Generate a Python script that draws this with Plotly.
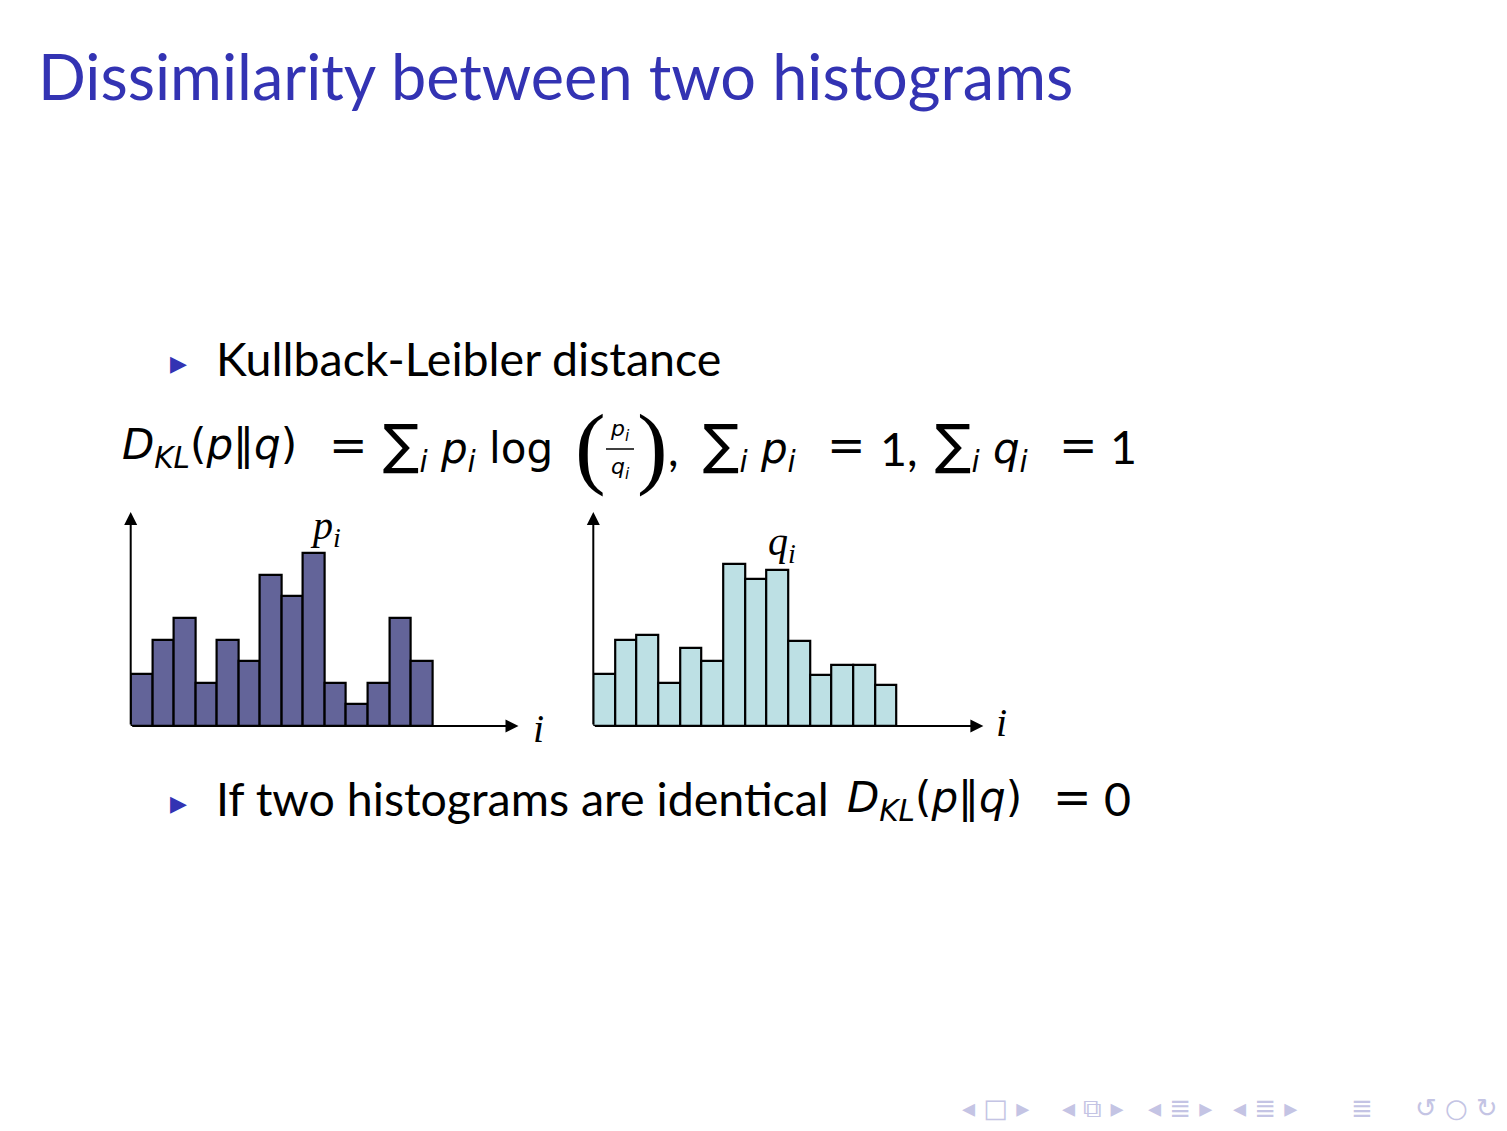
import plotly.graph_objects as go

# bar heights (arbitrary units)
bins = list(range(14))
p_vals = [2.4, 4, 5, 2, 4, 3, 7, 6, 8, 2, 1, 2, 5, 3]
q_vals = [2.4, 4, 4.2, 2, 3.6, 3, 7.5, 6.8, 7.2, 3.95, 2.35, 2.8, 2.8, 1.9]

W, H = 1507, 1131
OFF = 8  # page body margin
BLUE = "#3333b3"
SANS = "Lato, 'Open Sans', sans-serif"
MATH = "'DejaVu Sans', sans-serif"
SERIF = "'Liberation Serif', 'DejaVu Serif', serif"
SUM = "<span style='font-size:54px'>∑</span>"


def px(x):
    return (x - OFF) / W


def py(y):
    return 1 - (y - OFF) / H


fig = go.Figure()
fig.add_trace(go.Bar(x=bins, y=p_vals, width=1, xaxis="x", yaxis="y",
                     marker=dict(color="#636499", line=dict(color="black", width=2.2))))
fig.add_trace(go.Bar(x=bins, y=q_vals, width=1, xaxis="x2", yaxis="y2",
                     marker=dict(color="#bde0e4", line=dict(color="black", width=2.2))))

ax_common = dict(visible=False, range=[-0.5, 17.5], fixedrange=True)
ay_common = dict(visible=False, range=[0, 9.9], fixedrange=True)
ydom = [py(726), py(512)]

fig.update_layout(
    width=W, height=H,
    margin=dict(l=0, r=0, t=0, b=0),
    paper_bgcolor="white", plot_bgcolor="white",
    showlegend=False, bargap=0,
    xaxis=dict(domain=[px(130.7), px(518.5)], **ax_common),
    yaxis=dict(domain=ydom, **ay_common),
    xaxis2=dict(domain=[px(593.3), px(983.4)], anchor="y2", **ax_common),
    yaxis2=dict(domain=ydom, anchor="x2", **ay_common),
)

anns = []
# axis arrows
for xr, yr in [("x", "y"), ("x2", "y2")]:
    anns.append(dict(x=17.5, y=0, ax=-0.5, ay=0, xref=xr, yref=yr, axref=xr, ayref=yr,
                     showarrow=True, arrowhead=2, arrowsize=1.3, arrowwidth=2, arrowcolor="black", text=""))
    anns.append(dict(x=-0.5, y=9.9, ax=-0.5, ay=0, xref=xr, yref=yr, axref=xr, ayref=yr,
                     showarrow=True, arrowhead=2, arrowsize=1.3, arrowwidth=2, arrowcolor="black", text=""))


def txt(x, y, text, size, color="black", family=SANS, anchor="left"):
    anns.append(dict(x=px(x), y=py(y), xref="paper", yref="paper", text=text, showarrow=False,
                     xanchor=anchor, yanchor="middle", font=dict(size=size, color=color, family=family)))


# title
txt(36, 76, "Dissimilarity between two histograms", 63, BLUE)

# bullets
FS = 46.5
MS = 42
EQ = 46
txt(168, 362, "▶", 22, BLUE)
txt(214, 358, "Kullback-Leibler distance", FS)
txt(168, 802, "▶", 22, BLUE)
txt(214, 798, "If two histograms are identical", FS)
txt(845, 800, "<i>D</i><sub><i>KL</i></sub>(<i>p</i>‖<i>q</i>)", MS, family=MATH)
txt(1072, 797, "=", EQ, family=MATH, anchor="center")
txt(1117, 798, "0", FS, anchor="center")

# formula
FY = 448
txt(120, FY, "<i>D</i><sub><i>KL</i></sub>(<i>p</i>‖<i>q</i>)", MS, family=MATH)
txt(348, FY - 3, "=", EQ, family=MATH, anchor="center")
txt(381, FY - 2, SUM + "<sub><i>i</i></sub> <i>p</i><sub><i>i</i></sub> log", MS, family=MATH)
txt(590, 446, "(", 92, family=SERIF, anchor="center")
txt(620, 430, "<i>p</i><sub><i>i</i></sub>", 22, family=MATH, anchor="center")
txt(620, 468, "<i>q</i><sub><i>i</i></sub>", 22, family=MATH, anchor="center")
txt(652, 446, ")", 92, family=SERIF, anchor="center")
txt(666, FY, ",", FS)
txt(701, FY - 2, SUM + "<sub><i>i</i></sub> <i>p</i><sub><i>i</i></sub>", MS, family=MATH)
txt(846, FY - 3, "=", EQ, family=MATH, anchor="center")
txt(878, FY, "1,", FS)
txt(933, FY - 2, SUM + "<sub><i>i</i></sub> <i>q</i><sub><i>i</i></sub>", MS, family=MATH)
txt(1078, FY - 3, "=", EQ, family=MATH, anchor="center")
txt(1123, FY - 2, "1", FS, anchor="center")

# histogram labels
txt(325, 528, "<i>p<sub>i</sub></i>", 40, family=SERIF, anchor="center")
txt(782, 544, "<i>q<sub>i</sub></i>", 40, family=SERIF, anchor="center")
txt(538, 728, "<i>i</i>", 40, family=SERIF, anchor="center")
txt(1001, 722, "<i>i</i>", 40, family=SERIF, anchor="center")

# beamer navigation symbols
NAV = "#c4c4e4"
NAVF = "'DejaVu Sans', sans-serif"
for cx, sym in [(995, "◂ □ ▸"), (1093, "◂ ⧉ ▸"), (1180, "◂ ≣ ▸"), (1265, "◂ ≣ ▸"),
                (1362, "≣"), (1456, "↺ ○ ↻")]:
    txt(cx, 1108, sym, 26, NAV, family=NAVF, anchor="center")

fig.update_layout(annotations=anns)
# fraction bar
fig.add_shape(type="line", xref="paper", yref="paper", x0=px(606), x1=px(634), y0=py(449), y1=py(449),
              line=dict(color="black", width=1.5))

fig.write_html("out.html")
